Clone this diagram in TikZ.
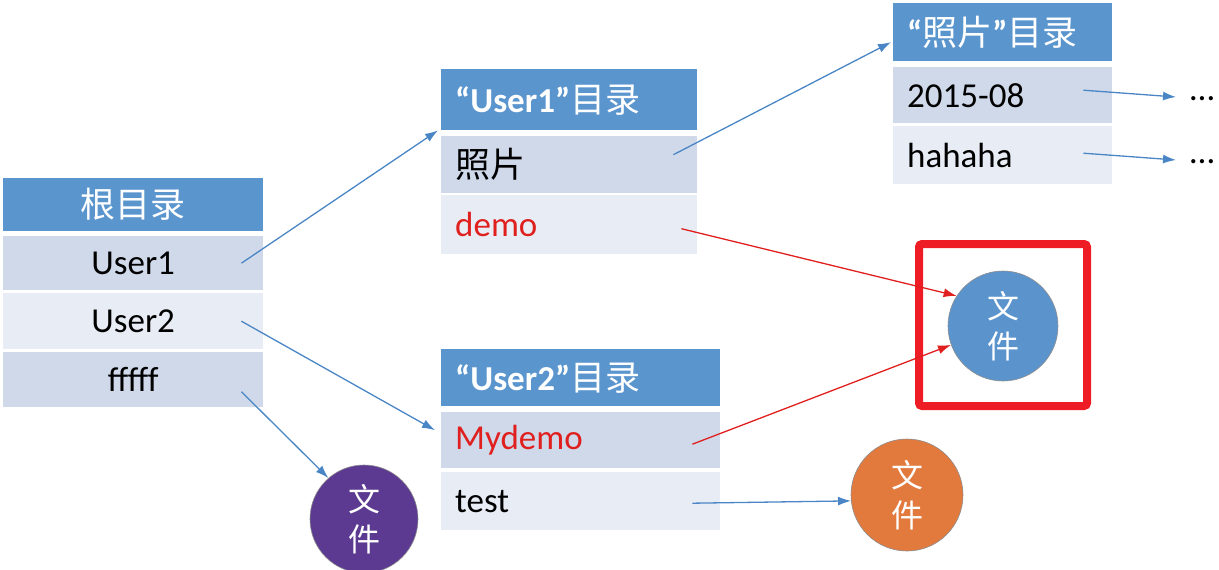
\documentclass[tikz,border=0pt]{standalone}
\usepackage{fontspec}
\setmainfont{Carlito}
\newfontfamily\cjk{Noto Sans CJK SC}
\usetikzlibrary{arrows.meta}

\definecolor{bleuTete}{HTML}{5B95CE}
\definecolor{bandeFonce}{HTML}{CFD9EA}
\definecolor{bandeClaire}{HTML}{E8EDF5}
\definecolor{bleuFleche}{HTML}{4A86C5}
\definecolor{rougeTexte}{HTML}{E0201E}
\definecolor{rougeCadre}{HTML}{EE1C25}
\definecolor{violetRond}{HTML}{5C3A92}
\definecolor{orangeRond}{HTML}{E27A3E}
\definecolor{bleuRond}{HTML}{5B94CD}

\newcommand{\grand}{\fontsize{35}{40}\selectfont}

\tikzset{
  cellule/.style={anchor=north west, inner ysep=0pt, inner xsep=14pt, align=left, font=\grand},
  tete/.style={cellule, fill=bleuTete, text=white},
  fonce/.style={cellule, fill=bandeFonce, text=black},
  clair/.style={cellule, fill=bandeClaire, text=black},
  rond/.style={circle, inner sep=0pt, draw=black!45, line width=0.6pt, text=white,
    align=center, font=\cjk\fontsize{32}{40}\selectfont},
  fleche/.style={draw=bleuFleche, line width=1.3pt, -{Latex[length=13pt,width=9pt]}},
  flecheRouge/.style={draw=rougeTexte, line width=1.3pt, -{Latex[length=13pt,width=9pt]}},
}

\begin{document}
\begin{tikzpicture}[x=1pt, y=-1pt]
  % cadre de l'image : 1219 x 570
  \useasboundingbox (0,0) rectangle (1219,570);

  % le tableau du répertoire racine (texte centré)
  \node[tete, text width=232pt, align=center, minimum height=53pt] (racine) at (3,178) {{\cjk 根目录}};
  \node[fonce, text width=232pt, align=center, minimum height=54pt] (u1) at (3,236) {User1};
  \node[clair, text width=232pt, align=center, minimum height=56pt] (u2) at (3,293) {User2};
  \node[fonce, text width=232pt, align=center, minimum height=55pt] (ff) at (3,352) {fffff};

  % le répertoire "User1"
  \node[tete, text width=228pt, minimum height=61pt] (t1) at (441,69) {{\bfseries “User1”}{\cjk 目录}};
  \node[fonce, text width=228pt, minimum height=57pt] (photo) at (441,136) {{\cjk 照片}};
  \node[clair, text width=228pt, minimum height=59pt, text=rougeTexte] (demo) at (441,195) {demo};

  % le répertoire "照片"
  \node[tete, text width=191pt, minimum height=58pt] (tp) at (893,3) {{\bfseries “}{\cjk 照片}{\bfseries ”}{\cjk 目录}};
  \node[fonce, text width=191pt, minimum height=56pt] (d15) at (893,67) {2015-08};
  \node[clair, text width=191pt, minimum height=58pt] (haha) at (893,126) {hahaha};

  % le répertoire "User2" (un peu plus large)
  \node[tete, text width=251pt, minimum height=57pt] (t2) at (441,349) {{\bfseries “User2”}{\cjk 目录}};
  \node[fonce, text width=251pt, minimum height=56pt, text=rougeTexte] (mydemo) at (441,412) {Mydemo};
  \node[clair, text width=251pt, minimum height=58pt] (test) at (441,472) {test};

  % les points de suspension
  \node[anchor=base west, inner xsep=14pt, font=\grand] (pt1) at (1176,100) {…};
  \node[anchor=base west, inner xsep=14pt, font=\grand] (pt2) at (1176,163) {…};

  % les fichiers
  \node[rond, fill=violetRond, minimum size=108pt] (fv) at (364,519) {文\\件};
  \node[rond, fill=orangeRond, minimum size=112pt] (fo) at (907,495) {文\\件};
  \node[rond, fill=bleuRond, minimum size=110pt] (fb) at (1003,326) {文\\件};

  % le cadre rouge autour du fichier partagé
  \draw[rougeCadre, line width=8pt, rounded corners=3pt] (919,244) rectangle (1087,406);

  % les liens bleus
  \draw[fleche] ([xshift=-22pt]u1.east) -- ([xshift=-3pt]t1.south west);
  \draw[fleche] ([xshift=-22pt]u2.east) -- ([shift={(-6pt,10pt)}]mydemo.west);
  \draw[fleche] ([shift={(-22pt,-12pt)}]ff.east) -- (fv.131);
  \draw[fleche] ([shift={(-24pt,10pt)}]photo.east) -- ([shift={(-2pt,-10pt)}]tp.west);
  \draw[fleche] ([shift={(-29pt,5pt)}]d15.east) -- ([yshift=3pt]pt1.base west);
  \draw[fleche] ([shift={(-29pt,2pt)}]haha.east) -- ([yshift=3pt]pt2.base west);
  \draw[fleche] ([shift={(-28pt,-2pt)}]test.east) -- (fo.186);

  % les liens rouges vers le même fichier
  \draw[flecheRouge] ([shift={(-16pt,-4pt)}]demo.east) -- (fb.147);
  \draw[flecheRouge] ([shift={(-28pt,-4pt)}]mydemo.east) -- (fb.200);
\end{tikzpicture}
\end{document}
